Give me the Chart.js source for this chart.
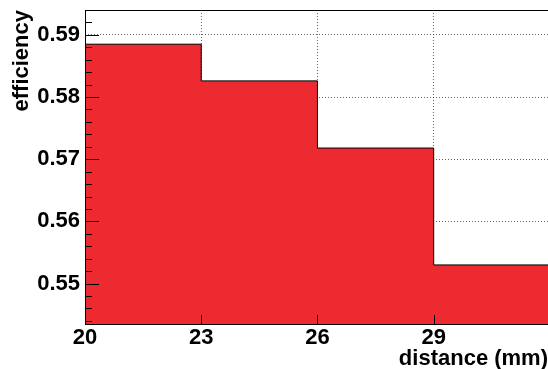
<!DOCTYPE html>
<html>
<head>
<meta charset="utf-8">
<script src="https://cdn.jsdelivr.net/npm/chart.js@4/dist/chart.umd.min.js"></script>
<style>
  html, body { margin: 0; padding: 0; background: #fff; }
</style>
</head>
<body>
<canvas id="effChart" width="548" height="369"></canvas>
<script>
// histogram bins (mm) and efficiency per bin
const binEdges = [20, 23, 26, 29, 32];
const efficiency = [0.5885, 0.5826, 0.5718, 0.5530];
const xTicks = [20, 23, 26, 29];
const yTicks = [0.55, 0.56, 0.57, 0.58, 0.59];
const yMinorStep = 0.002;

const FONT = "'Liberation Sans', Arial, Helvetica, sans-serif";

// step points: each bin value starts at its left edge, last one is repeated at the right edge
const points = binEdges.map((edge, i) => ({
    x: edge,
    y: efficiency[Math.min(i, efficiency.length - 1)]
}));

// ROOT-like frame with inward tick marks
const frameTicks = {
    id: 'frameTicks',
    afterDatasetsDraw(chart) {
        const { ctx, chartArea: a, scales } = chart;
        const xs = scales.x, ys = scales.y;
        ctx.save();
        ctx.strokeStyle = '#000';
        ctx.lineWidth = 1;
        ctx.beginPath();
        // y ticks, major + minor
        const yMin = ys.min, yMax = ys.max;
        const first = Math.ceil(yMin / yMinorStep - 1e-6);
        for (let k = first; k * yMinorStep <= yMax + 1e-9; k++) {
            const v = k * yMinorStep;
            const isMajor = yTicks.some(t => Math.abs(t - v) < 1e-6);
            const py = Math.round(ys.getPixelForValue(v)) + 0.5;
            ctx.moveTo(a.left, py);
            ctx.lineTo(a.left + (isMajor ? 14 : 7), py);
        }
        // x ticks
        xTicks.forEach(v => {
            const px = Math.round(xs.getPixelForValue(v)) + 0.5;
            ctx.moveTo(px, a.bottom);
            ctx.lineTo(px, a.bottom - 9);
        });
        ctx.stroke();

        // frame
        ctx.beginPath();
        ctx.moveTo(a.left + 0.5, a.top + 0.5);
        ctx.lineTo(a.right + 2, a.top + 0.5);
        ctx.moveTo(a.left + 0.5, a.top);
        ctx.lineTo(a.left + 0.5, a.bottom + 1);
        ctx.moveTo(a.left, a.bottom + 0.5);
        ctx.lineTo(a.right + 2, a.bottom + 0.5);
        ctx.stroke();
        ctx.restore();
    }
};

const ctx = document.getElementById('effChart').getContext('2d');

new Chart(ctx, {
    type: 'line',
    data: {
        datasets: [{
            label: 'efficiency',
            data: points,
            stepped: 'before',
            fill: 'start',
            backgroundColor: '#ec2a2f',
            borderColor: '#000',
            borderWidth: 1,
            pointRadius: 0,
            tension: 0
        }]
    },
    options: {
        responsive: false,
        animation: false,
        layout: { padding: { top: 10, right: 0, left: 0, bottom: 0 } },
        plugins: {
            legend: { display: false },
            tooltip: { enabled: false }
        },
        scales: {
            x: {
                type: 'linear',
                min: 20,
                max: 31.95,
                afterBuildTicks: s => { s.ticks = xTicks.map(v => ({ value: v })); },
                afterFit: s => { s.height = 45; s.paddingLeft = 0; s.paddingRight = 0; },
                border: { display: false, dash: [1, 2] },
                grid: {
                    drawTicks: false,
                    color: 'rgba(0,0,0,0.6)',
                    lineWidth: v => (v.tick && v.tick.value === 20 ? 0 : 1)
                },
                ticks: {
                    padding: 1,
                    maxRotation: 0,
                    autoSkip: false,
                    color: '#000',
                    font: { family: FONT, size: 22, weight: 'bold' }
                },
                title: {
                    display: true,
                    text: 'distance (mm)',
                    align: 'end',
                    color: '#000',
                    padding: { top: 0, bottom: -3 },
                    font: { family: FONT, size: 22, weight: 'bold' }
                }
            },
            y: {
                min: 0.5435,
                max: 0.5940,
                afterBuildTicks: s => { s.ticks = yTicks.map(v => ({ value: v })); },
                afterFit: s => { s.width = 85; s.paddingTop = 0; s.paddingBottom = 0; },
                border: { display: false, dash: [1, 2] },
                grid: {
                    drawTicks: false,
                    color: 'rgba(0,0,0,0.6)'
                },
                ticks: {
                    padding: 5,
                    color: '#000',
                    font: { family: FONT, size: 22, weight: 'bold' },
                    callback: v => v.toFixed(2)
                },
                title: {
                    display: true,
                    text: 'efficiency',
                    align: 'end',
                    color: '#000',
                    padding: { top: 9, bottom: 0 },
                    font: { family: FONT, size: 22, weight: 'bold' }
                }
            }
        }
    },
    plugins: [frameTicks]
});
</script>
</body>
</html>
